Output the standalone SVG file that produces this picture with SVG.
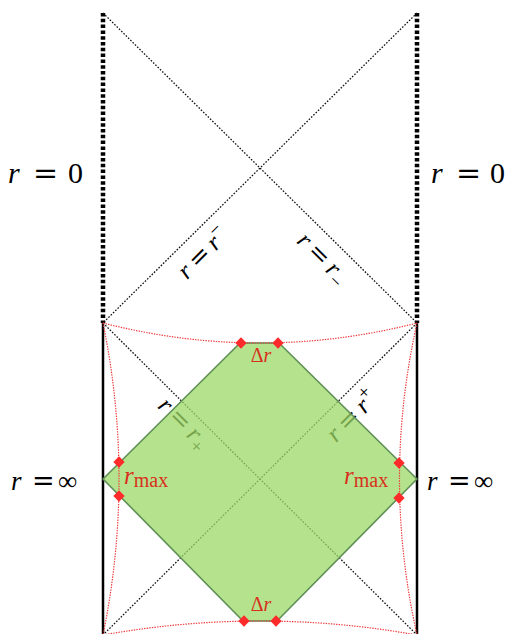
<svg xmlns="http://www.w3.org/2000/svg" width="507" height="634" viewBox="0 0 507 634">
  <defs>
    <style>
      .thick { stroke:#000; stroke-width:4.5; stroke-dasharray:3.5 2.3; fill:none; }
      .solid { stroke:#000; stroke-width:2.5; fill:none; }
      .diag { stroke:#111; stroke-width:1.3; stroke-dasharray:1.6 1.6; fill:none; }
      .red { stroke:#f03a3a; stroke-width:1.2; stroke-dasharray:1.4 1.2; fill:none; }
      .lbl { font-family:"Liberation Serif","DejaVu Serif",serif; fill:#000; }
      .it { font-style:italic; }
      .rl { font-family:"Liberation Serif","DejaVu Serif",serif; fill:#d8301c; }
      .dot { fill:#ff2a2a; }
    </style>
  </defs>

  <g id="connectors">
    <line class="thick" x1="103" y1="13" x2="103" y2="323"/>
    <line class="thick" x1="417" y1="13" x2="417" y2="323"/>
    <line class="diag" x1="103" y1="13" x2="417" y2="323"/>
    <line class="diag" x1="417" y1="13" x2="103" y2="323"/>
    <line class="solid" x1="103" y1="323" x2="103" y2="636"/>
    <line class="solid" x1="417" y1="323" x2="417" y2="636"/>
    <line class="diag" x1="103" y1="323" x2="417" y2="635"/>
    <line class="diag" x1="417" y1="323" x2="103" y2="635"/>
  </g>

  <g id="labels">
    <text class="lbl" font-size="30" y="183"><tspan class="it" x="8">r</tspan><tspan x="33" font-family="DejaVu Serif">=</tspan><tspan x="68">0</tspan></text>
    <text class="lbl" font-size="30" y="183"><tspan class="it" x="431">r</tspan><tspan x="456" font-family="DejaVu Serif">=</tspan><tspan x="490">0</tspan></text>
    <text class="lbl" font-size="27" y="490"><tspan class="it" x="11">r</tspan><tspan x="32" font-family="DejaVu Serif">=</tspan><tspan x="58">∞</tspan></text>
    <text class="lbl" font-size="27" y="490"><tspan class="it" x="427">r</tspan><tspan x="448" font-family="DejaVu Serif">=</tspan><tspan x="474">∞</tspan></text>

    <g id="label-rminus-left" transform="translate(203,253) rotate(-45)">
      <text class="lbl" font-size="25" x="0" y="8" text-anchor="middle"><tspan class="it">r</tspan><tspan dx="5" font-family="DejaVu Serif">=</tspan><tspan class="it" dx="5">r</tspan><tspan font-size="19" dy="-10">−</tspan></text>
    </g>
    <g id="label-rminus-right" transform="translate(323,258) rotate(45)">
      <text class="lbl" font-size="25" x="0" y="8" text-anchor="middle"><tspan class="it">r</tspan><tspan dx="5" font-family="DejaVu Serif">=</tspan><tspan class="it" dx="5">r</tspan><tspan font-size="19" dy="6">−</tspan></text>
    </g>
    <g id="label-rplus-left" transform="translate(184,423) rotate(45)">
      <text class="lbl" font-size="25" x="0" y="8" text-anchor="middle"><tspan class="it">r</tspan><tspan dx="5" font-family="DejaVu Serif">=</tspan><tspan class="it" dx="5">r</tspan><tspan font-size="19" dy="6">+</tspan></text>
    </g>
    <g id="label-rplus-right" transform="translate(352,416) rotate(-45)">
      <text class="lbl" font-size="25" x="0" y="8" text-anchor="middle"><tspan class="it">r</tspan><tspan dx="5" font-family="DejaVu Serif">=</tspan><tspan class="it" dx="5">r</tspan><tspan font-size="19" dy="-10">+</tspan></text>
    </g>
  </g>

  <g id="diamond">
    <polygon points="103,479 240,343 279,343 417,479 277,621 243,621" fill="#9cd866" fill-opacity="0.75" stroke="#5e8f55" stroke-width="1.6" stroke-linejoin="round"/>
  </g>

  <g id="cutoff-curves">
    <path class="red" d="M103,323 Q260,363 417,323"/>
    <path class="red" d="M103,635 Q260,607 417,635"/>
    <path class="red" d="M103,323 Q135,479 103,635"/>
    <path class="red" d="M417,323 Q382,479 417,635"/>
  </g>

  <g id="markers">
    <rect class="dot" x="-4" y="-4" width="8" height="8" transform="translate(241,343) rotate(45)"/>
    <rect class="dot" x="-4" y="-4" width="8" height="8" transform="translate(278,343) rotate(45)"/>
    <rect class="dot" x="-4" y="-4" width="8" height="8" transform="translate(244,621) rotate(45)"/>
    <rect class="dot" x="-4" y="-4" width="8" height="8" transform="translate(276,621) rotate(45)"/>
    <rect class="dot" x="-4" y="-4" width="8" height="8" transform="translate(119,462) rotate(45)"/>
    <rect class="dot" x="-4" y="-4" width="8" height="8" transform="translate(119,496) rotate(45)"/>
    <rect class="dot" x="-4" y="-4" width="8" height="8" transform="translate(399,463) rotate(45)"/>
    <rect class="dot" x="-4" y="-4" width="8" height="8" transform="translate(399,498) rotate(45)"/>
  </g>

  <g id="red-labels">
    <text class="rl" font-size="20" x="261" y="362" text-anchor="middle">Δ<tspan class="it">r</tspan></text>
    <text class="rl" font-size="20" x="261" y="611" text-anchor="middle">Δ<tspan class="it">r</tspan></text>
    <text class="rl" font-size="25" x="124" y="484"><tspan class="it">r</tspan><tspan font-size="20" dy="3">max</tspan></text>
    <text class="rl" font-size="25" x="344" y="484"><tspan class="it">r</tspan><tspan font-size="20" dy="3">max</tspan></text>
  </g>
</svg>
